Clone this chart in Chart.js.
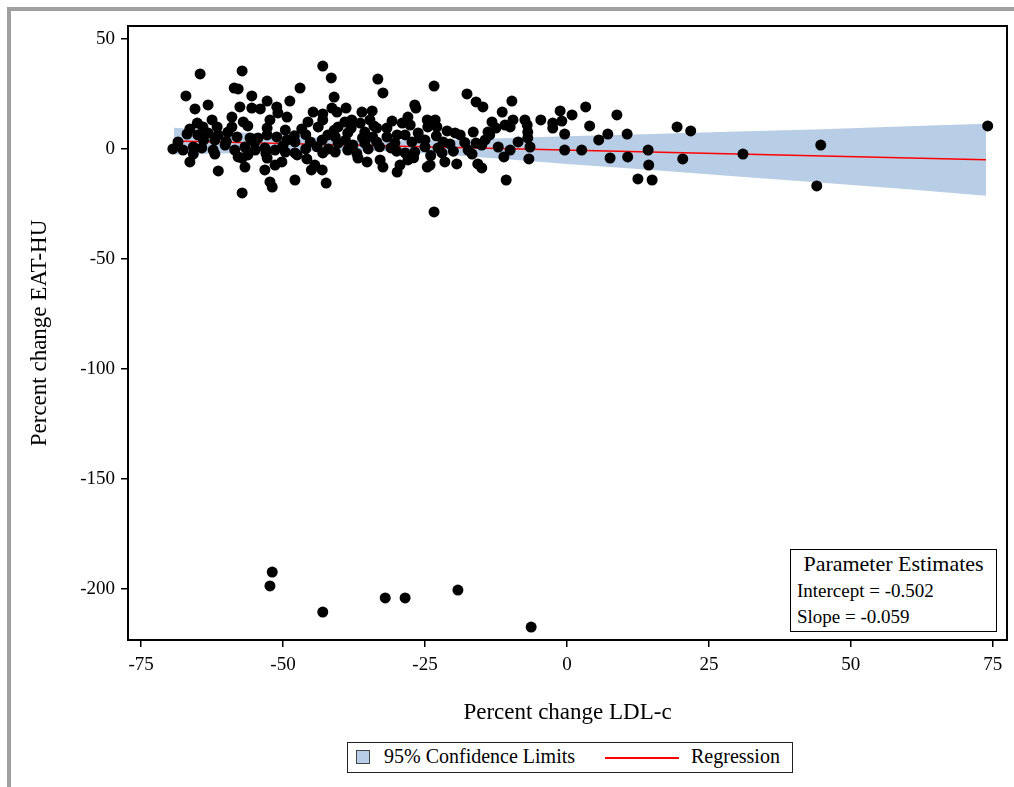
<!DOCTYPE html>
<html>
<head>
<meta charset="utf-8">
<script src="https://cdn.jsdelivr.net/npm/chart.js@4.4.1/dist/chart.umd.min.js"></script>
<style>
    body { margin: 0; background: #fff; font-family: "Liberation Serif", "Times New Roman", serif; }
    #pagina { position: relative; width: 1014px; height: 787px; overflow: hidden; }
    #marco { position: absolute; left: 7px; top: 7px; right: -10px; bottom: -10px; border-left: 4px solid #a0a0a0; border-top: 4px solid #a0a0a0; }
    #grafico { position: absolute; left: 0; top: 0; }
    #estimaciones { position: absolute; left: 790px; top: 549px; width: 205px; height: 81px; border: 1.5px solid #000; background: #fff; }
    #estimaciones div { position: absolute; white-space: nowrap; color: #000; }
    #leyenda { position: absolute; left: 347px; top: 742px; width: 444px; height: 29px; border: 1.5px solid #222; background: #fff; }
    #leyenda div { position: absolute; white-space: nowrap; color: #000; }
</style>
</head>
<body>
<div id="pagina">
    <div id="marco"></div>
    <canvas id="grafico" width="1014" height="787"></canvas>
    <div id="estimaciones">
        <div style="left:0; width:205px; text-align:center; top:1px; font-size:22px;">Parameter Estimates</div>
        <div style="left:6px; top:30px; font-size:19px;">Intercept = -0.502</div>
        <div style="left:6px; top:56px; font-size:19px;">Slope = -0.059</div>
    </div>
    <div id="leyenda">
        <div style="left:8px; top:7px; width:12px; height:12px; background:#b8cde6; border:1.5px solid #444;"></div>
        <div style="left:36px; top:2px; font-size:20px;">95% Confidence Limits</div>
        <div style="left:257px; top:14px; width:74px; height:2px; background:#ff0000;"></div>
        <div style="left:343px; top:2px; font-size:20px;">Regression</div>
    </div>
</div>
<script>
// Datos
const ticksX = [-75, -50, -25, 0, 25, 50, 75];
const ticksY = [-200, -150, -100, -50, 0, 50];

// Puntos observados (Percent change LDL-c, Percent change EAT-HU)
const puntosX = [
    -51.9, -52.3, -43.0, -32.0, -28.5, -19.2, -6.3,
    74.1, 44.7, 44.0, 31.0, 20.4, 21.8, 19.4, -1.2, 0.9, 3.3, -0.9, -0.4, 4.0, 8.8, -0.4, 2.6, 5.6, 7.2, 10.6, 7.6, 10.7, 14.3, 14.4, 12.5, 15.0,
    -23.4, -17.6, -16.0, -14.8, -9.7, -11.4, -23.2, -22.9, -21.1, -19.7, -18.8, -16.5, -13.2, -12.5, -10.9, -9.5, -10.0, -7.4, -7.0, -6.9, -4.6, -2.5, -2.5,
    -13.6, -14.4, -15.0, -16.0, -20.6, -21.8, -22.7, -22.0, -21.5, -19.4, -15.7, -15.0, -17.4, -16.7, -12.1, -11.1, -10.0, -8.6, -6.9, -6.5, -6.7, -10.7, -23.4, -24.1, -13.9,
    -43.0, -41.5, -47.0, -33.3, -32.4, -41.0, -44.7, -43.0, -41.4, -40.5, -38.9, -36.1, -34.3, -26.8, -26.6,
    -46.7, -45.6, -43.8, -43.0, -40.3, -39.1, -37.9, -36.4, -34.7, -33.5, -31.7, -30.8, -29.0, -28.0, -27.6, -24.6, -24.5,
    -42.1, -40.8, -38.6, -35.6, -34.2, -31.7, -29.9, -28.5, -26.2,
    -47.9, -45.2, -43.1, -40.3, -37.7, -35.6, -33.5, -30.3, -27.3, -25.0,
    -47.5, -45.8, -44.4, -43.1, -43.0, -40.8, -38.6, -36.8, -35.2, -32.9, -32.4, -29.9, -29.4, -28.5, -26.8, -24.6, -42.4,
    -64.6, -57.2, -67.1, -58.6, -57.9, -55.5, -65.5, -63.2, -57.6, -55.5, -54.0, -52.8, -51.1, -48.8, -50.9, -49.3,
    -59.0, -62.5, -65.1, -66.4, -64.1, -61.6, -57.0, -56.2, -52.3, -52.8, -49.6,
    -66.9, -65.0, -63.2, -61.4, -59.7, -58.1, -55.8, -54.4, -52.8, -51.1, -49.3,
    -68.5, -69.4, -67.6, -65.8, -64.3, -62.3, -60.2, -58.5, -56.7, -54.9, -53.2, -51.4, -49.6, -47.9,
    -65.8, -62.0, -57.9, -56.2, -66.4, -57.2, -56.7, -52.8, -51.4, -50.2, -53.2, -61.4, -52.3, -51.9, -47.9, -57.2,
    -62.0, -60.0, -55.0, -50.0, -48.0, -46.0, -44.0, -42.0, -41.0, -39.0, -38.0, -36.0, -35.0, -33.0, -31.0, -30.0,
    -27.0, -26.0, -25.0, -24.0, -23.0, -20.0, -18.0, -45.0, -37.0, -34.0, -28.0, -64.0, -59.0, -53.0, -46.0
];
const puntosY = [
    -192.3, -198.6, -210.5, -204.1, -204.1, -200.5, -217.3,
    10.5, 1.8, -16.8, -2.3, -4.5, 8.2, 10.0, 17.3, 15.5, 19.1, 12.7, 6.8, 10.5, 15.5, -0.5, -0.5, 4.1, 6.8, 6.8, -4.1, -3.6, -0.5, -7.3, -13.6, -14.1,
    28.6, 25.0, 21.4, 19.1, 21.8, 16.8, 13.2, 10.0, 8.2, 7.3, 6.4, 7.7, 12.3, 9.5, 10.9, 13.2, 10.0, 13.2, 10.9, 7.7, 13.2, 11.8, 9.5,
    6.4, 4.1, 1.8, 2.7, 2.3, 3.2, 0.5, -1.8, -5.9, -6.8, -6.8, -8.6, -0.5, -2.3, 0.9, -3.6, -0.5, 3.2, 5.0, 0.9, -4.5, -14.1, -28.6, -7.3, 7.7,
    37.7, 32.3, 27.7, 31.8, 25.5, 23.6, 16.8, 15.9, 18.6, 16.8, 18.6, 16.8, 17.3, 20.0, 18.6,
    9.1, 12.3, 10.0, 13.2, 10.0, 12.3, 13.2, 11.8, 13.2, 9.5, 9.5, 12.7, 11.8, 14.5, 10.9, 13.2, 10.0,
    6.4, 5.5, 7.3, 7.7, 5.5, 5.5, 6.4, 6.4, 7.3,
    3.2, 3.2, 4.1, 2.7, 1.8, 2.7, 3.2, 2.7, 3.2, 4.1,
    -2.7, -4.5, -7.3, -9.5, -1.8, -1.4, -0.5, -4.1, -5.9, -5.0, -8.2, -10.5, -7.3, -1.8, -1.4, -8.2, -15.5,
    34.1, 35.5, 24.1, 27.7, 27.3, 24.1, 18.2, 20.0, 19.1, 18.6, 18.2, 21.8, 19.1, 21.8, 16.4, 14.5,
    14.5, 13.2, 11.8, 9.1, 10.0, 10.0, 12.3, 10.5, 13.2, 9.5, 8.6,
    6.8, 6.4, 7.3, 6.4, 7.7, 5.5, 5.0, 5.0, 6.4, 5.5, 4.1,
    3.2, 0.0, -0.5, 0.9, 0.5, -0.5, 1.8, -0.5, 0.9, -0.5, 0.5, -0.5, -1.4, -1.8,
    -2.3, -2.3, -3.6, -2.7, -5.9, -4.1, -8.2, -4.1, -7.3, -5.9, -9.5, -10.0, -15.0, -17.3, -14.1, -20.0,
    4.0, 3.5, 3.0, 1.5, 6.0, 6.5, 1.0, 0.0, 8.5, 4.0, 9.5, 5.0, 0.0, 1.0, 0.5, -1.0,
    -4.0, 5.0, 1.0, -3.0, 6.0, -1.0, 3.0, -9.5, -2.0, 10.5, -5.0, 4.0, 10.0, -2.0, 0.0
];

// Banda de confianza al 95% (límites superior e inferior)
const bandaX = [-69.2, -55, -45, -38, -30, -20, -10, 0, 15, 30, 45, 60, 73.8];
const bandaSup = [9.7, 7.1, 5.3, 4.1, 3.8, 4.2, 5.0, 5.8, 6.8, 7.9, 9.0, 10.3, 11.5];
const bandaInf = [-2.5, -1.7, -1.0, -0.7, -1.2, -2.8, -4.8, -6.8, -9.6, -12.5, -15.4, -18.3, -21.3];

// Recta de regresión
const regresionX = [-69.2, 73.8];
const regresionY = [3.58, -4.86];

const fuente = 'Liberation Serif';
const colorBanda = '#b8cde6';

function pares(xs, ys) {
    return xs.map((x, i) => ({ x: x, y: ys[i] }));
}

// Marco negro alrededor del área de trazado
const marcoArea = {
    id: 'marcoArea',
    afterDatasetsDraw(chart) {
        const a = chart.chartArea;
        const ctx = chart.ctx;
        ctx.save();
        ctx.strokeStyle = '#000';
        ctx.lineWidth = 2;
        ctx.strokeRect(a.left, a.top, a.right - a.left, a.bottom - a.top);
        ctx.restore();
    }
};

const ctx = document.getElementById('grafico').getContext('2d');
const grafico = new Chart(ctx, {
    type: 'scatter',
    data: {
        datasets: [
            {
                type: 'line',
                data: pares(bandaX, bandaSup),
                borderWidth: 0,
                pointRadius: 0,
                backgroundColor: colorBanda,
                fill: '+1',
                order: 4
            },
            {
                type: 'line',
                data: pares(bandaX, bandaInf),
                borderWidth: 0,
                pointRadius: 0,
                fill: false,
                order: 5
            },
            {
                type: 'line',
                data: pares(regresionX, regresionY),
                borderColor: '#ff0000',
                borderWidth: 1.5,
                pointRadius: 0,
                fill: false,
                order: 2
            },
            {
                data: pares(puntosX, puntosY),
                backgroundColor: '#000',
                borderColor: '#000',
                borderWidth: 0,
                pointRadius: 5.5,
                order: 1
            }
        ]
    },
    options: {
        responsive: false,
        animation: false,
        layout: { padding: { top: 26, right: 7, bottom: 60, left: 0 } },
        plugins: {
            legend: { display: false },
            tooltip: { enabled: false }
        },
        scales: {
            x: {
                type: 'linear',
                min: -77.3,
                max: 77.5,
                afterBuildTicks: s => { s.ticks = ticksX.map(v => ({ value: v })); },
                afterFit: s => { s.height = 87; },
                border: { display: false },
                grid: { drawOnChartArea: false, drawTicks: true, tickLength: 7, color: '#000', lineWidth: 1.5 },
                ticks: { color: '#000', padding: 7, font: { family: fuente, size: 19 } },
                title: { display: true, text: 'Percent change LDL-c', color: '#000', padding: { top: 0, bottom: 0 }, font: { family: fuente, size: 23 } }
            },
            y: {
                type: 'linear',
                min: -223.2,
                max: 55.9,
                afterBuildTicks: s => { s.ticks = ticksY.map(v => ({ value: v })); },
                afterFit: s => { s.width = 128; },
                border: { display: false },
                grid: { drawOnChartArea: false, drawTicks: true, tickLength: 7, color: '#000', lineWidth: 1.5 },
                ticks: { color: '#000', padding: 6, font: { family: fuente, size: 19 } },
                title: { display: true, text: 'Percent change EAT-HU', color: '#000', padding: { top: 26, bottom: 0 }, font: { family: fuente, size: 23 } }
            }
        }
    },
    plugins: [marcoArea]
});
</script>
</body>
</html>
